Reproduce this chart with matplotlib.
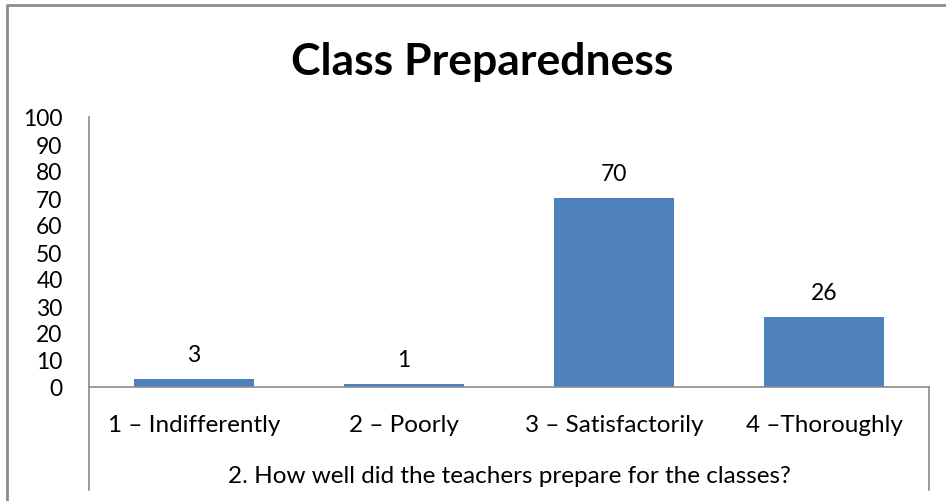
import matplotlib
matplotlib.use("Agg")
import matplotlib.pyplot as plt
from matplotlib.lines import Line2D
from matplotlib.transforms import blended_transform_factory

categories = ["1 – Indifferently", "2 – Poorly", "3 – Satisfactorily", "4 –Thoroughly"]
values = [3, 1, 70, 26]
y_ticks = list(range(0, 101, 10))

W, H = 946, 502
BAR_COLOR = "#4F81BD"
LINE_COLOR = "#8C8C8C"
FONT = "Lato"

plt.rcParams["font.family"] = [FONT, "DejaVu Sans"]

fig = plt.figure(figsize=(W / 100, H / 100), dpi=100)
fig.patch.set_facecolor("white")


def fx(px):
    return px / W


def fy(py):
    return 1 - py / H


ax_left, ax_right, ax_top, ax_bottom = 89, 929, 118, 388
ax = fig.add_axes([fx(ax_left), fy(ax_bottom), fx(ax_right - ax_left), (ax_bottom - ax_top) / H])

x = list(range(len(categories)))
bars = ax.bar(x, values, width=0.57, color=BAR_COLOR)
ax.set_xlim(-0.5, len(categories) - 0.5)
ax.set_ylim(0, 100)
ax.set_yticks(y_ticks)
ax.set_xticks(x)
ax.set_xticklabels([])
ax.tick_params(axis="y", length=0, pad=19, labelsize=16.5)
ax.tick_params(axis="x", length=0)

for s in ["top", "right"]:
    ax.spines[s].set_visible(False)
for s in ["left", "bottom"]:
    ax.spines[s].set_color(LINE_COLOR)
    ax.spines[s].set_linewidth(1.2)

# category labels below the axis
trans = blended_transform_factory(ax.transData, fig.transFigure)
for xi, cat in zip(x, categories):
    ax.text(xi, fy(432), cat, transform=trans, ha="center", va="baseline",
            fontsize=17.5)

for rect, v in zip(bars, values):
    ax.annotate(str(v), (rect.get_x() + rect.get_width() / 2, v),
                xytext=(0, 13), textcoords="offset points",
                ha="center", va="baseline", fontsize=16.5)

# extended category-axis separators below the plot area
for px in (ax_left, ax_right):
    fig.add_artist(Line2D([fx(px), fx(px)], [fy(ax_bottom), fy(491)],
                          color=LINE_COLOR, linewidth=1.2))

fig.text(fx(509), fy(483), "2. How well did the teachers prepare for the classes?",
         ha="center", va="baseline", fontsize=17.5)
fig.text(fx(482), fy(75), "Class Preparedness", ha="center", va="baseline",
         fontsize=32, fontweight="bold")

# chart border (cropped on right and bottom)
fig.add_artist(Line2D([fx(7), fx(7), fx(W + 5)], [fy(H + 5), fy(6), fy(6)],
                      color=LINE_COLOR, linewidth=2))

fig.savefig("out.png", dpi=100)
